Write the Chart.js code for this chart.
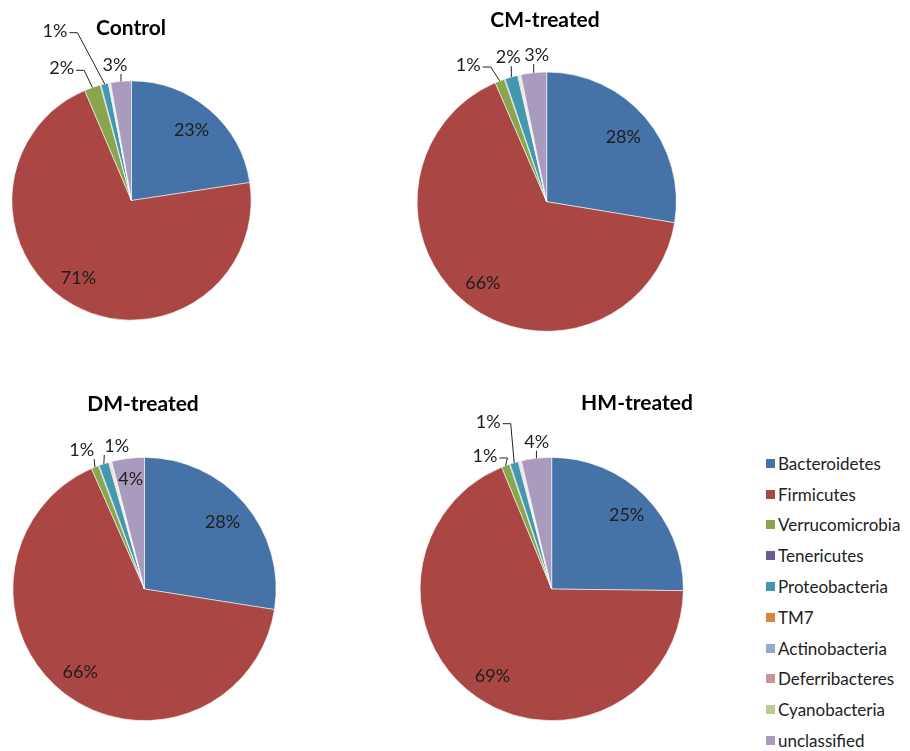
<!DOCTYPE html>
<html>
<head>
  <title>Phylum composition by treatment</title>
  <script src="https://cdn.jsdelivr.net/npm/chart.js"></script>
  <style>
    body { margin: 0; background: #fff; font-family: Lato, "Open Sans", sans-serif; }
    #page { position: relative; width: 910px; height: 751px; overflow: hidden; }
    #page canvas { position: absolute; left: 0; top: 0; }
    .title {
      position: absolute; font-weight: bold; font-size: 21px; color: #000;
      transform: translate(-50%, -50%); white-space: nowrap;
    }
    #legend { position: absolute; left: 766px; top: 448px; }
    .item { height: 30.8px; display: flex; align-items: center; font-size: 17px; color: #222; }
    .sw { width: 9px; height: 9px; margin-right: 3px; flex: none; }
  </style>
</head>
<body>
  <div id="page">
    <div id="legend"></div>
  </div>

  <script>
    // categories (legend order = slice order, clockwise from 12 o'clock)
    const phyla = [
      "Bacteroidetes", "Firmicutes", "Verrucomicrobia", "Tenericutes", "Proteobacteria",
      "TM7", "Actinobacteria", "Deferribacteres", "Cyanobacteria", "unclassified"
    ];
    const phylaColors = [
      "#4572A7", "#AA4643", "#89A54E", "#71588F", "#4198AF",
      "#DB843D", "#93A9CF", "#D19392", "#B9CD96", "#A99BBD"
    ];

    // relative abundance (%) per group
    const groups = ["Control", "CM-treated", "DM-treated", "HM-treated"];
    const control   = [22.6, 71.0, 2.2, 0.1, 1.0, 0.05, 0.1, 0.1, 0.05, 2.8];
    const cmTreated = [27.6, 65.9, 1.2, 0.1, 1.6, 0.1, 0.1, 0.1, 0.1, 3.2];
    const dmTreated = [27.5, 65.9, 0.9, 0.1, 1.2, 0.1, 0.1, 0.1, 0.1, 4.0];
    const hmTreated = [25.2, 68.6, 1.0, 0.1, 1.0, 0.1, 0.1, 0.1, 0.1, 3.7];
    const groupValues = [control, cmTreated, dmTreated, hmTreated];

    // where each pie sits on the page, and where its title goes
    const W = 910, H = 751;
    const pies = [
      { cx: 131.5, cy: 200.5, r: 120, tx: 131, ty: 26 },
      { cx: 546.7, cy: 201.7, r: 130, tx: 545, ty: 18 },
      { cx: 144.5, cy: 589,   r: 132, tx: 143, ty: 402 },
      { cx: 551.7, cy: 589,   r: 132, tx: 637, ty: 401 }
    ];

    // label placement: r = inside at fraction of radius, dx/dy = outside with leader line
    const spots = [
      { 0: { r: 0.77 }, 1: { r: 0.79, turn: 5 }, 2: { dx: -69.8, dy: -132.2 }, 4: { dx: -76.5, dy: -169.8 }, 9: { dx: -16.5, dy: -135.5 } },
      { 0: { r: 0.775 }, 1: { r: 0.8 }, 2: { dx: -78.4, dy: -136.7 }, 4: { dx: -38.4, dy: -144.4 }, 9: { dx: -10, dy: -146.7 } },
      { 0: { r: 0.78 }, 1: { r: 0.8 }, 2: { dx: -62.8, dy: -139 }, 4: { dx: -27.8, dy: -143 }, 9: { r: 0.84 } },
      { 0: { r: 0.8 }, 1: { r: 0.8 }, 2: { dx: -66.7, dy: -133 }, 4: { dx: -63.4, dy: -167.3 }, 9: { dx: -15, dy: -147.3 } }
    ];

    // draws the percentage labels and leader lines
    const sliceLabels = {
      id: "sliceLabels",
      afterDatasetsDraw(chart, args, opts) {
        const ctx = chart.ctx;
        const meta = chart.getDatasetMeta(0);
        const vals = chart.data.datasets[0].data;
        const total = vals.reduce((a, b) => a + b, 0);
        ctx.save();
        ctx.font = "18px Lato";
        ctx.fillStyle = "#1e1e1e";
        ctx.strokeStyle = "#222";
        ctx.lineWidth = 1;
        ctx.textAlign = "center";
        ctx.textBaseline = "middle";
        meta.data.forEach((arc, i) => {
          const spot = opts.spots[i];
          if (!spot) return;
          const text = Math.round(vals[i] / total * 100) + "%";
          const p = arc.getProps(["x", "y", "startAngle", "endAngle", "outerRadius"], true);
          const mid = (p.startAngle + p.endAngle) / 2 + (spot.turn || 0) * Math.PI / 180;
          if (spot.r) {
            ctx.fillText(text, p.x + Math.cos(mid) * p.outerRadius * spot.r,
                               p.y + Math.sin(mid) * p.outerRadius * spot.r);
            return;
          }
          const lx = p.x + spot.dx, ly = p.y + spot.dy;
          const ax = p.x + Math.cos(mid) * p.outerRadius;
          const ay = p.y + Math.sin(mid) * p.outerRadius;
          const w = ctx.measureText(text).width;
          ctx.beginPath();
          if (ax - (lx + w / 2) > 6) {
            ctx.moveTo(lx + w / 2 + 2, ly + 2);
            ctx.lineTo(lx + w / 2 + 10, ly + 2);
          } else {
            ctx.moveTo(Math.min(Math.max(ax, lx - w / 2), lx + w / 2), ly + 9);
          }
          ctx.lineTo(ax, ay);
          ctx.stroke();
          ctx.fillText(text, lx, ly);
        });
        ctx.restore();
      }
    };

    const page = document.getElementById("page");

    groups.forEach((name, g) => {
      const pie = pies[g];
      const canvas = document.createElement("canvas");
      canvas.width = W;
      canvas.height = H;
      page.appendChild(canvas);

      new Chart(canvas.getContext("2d"), {
        type: "pie",
        data: {
          labels: phyla,
          datasets: [{
            data: groupValues[g],
            backgroundColor: phylaColors,
            borderColor: "rgba(255,255,255,0.7)",
            borderWidth: 0.8
          }]
        },
        options: {
          responsive: false,
          animation: false,
          layout: {
            padding: {
              left: pie.cx - pie.r,
              top: pie.cy - pie.r,
              right: W - pie.cx - pie.r,
              bottom: H - pie.cy - pie.r
            }
          },
          plugins: {
            legend: { display: false },
            tooltip: { enabled: false },
            sliceLabels: { spots: spots[g] }
          }
        },
        plugins: [sliceLabels]
      });

      const t = document.createElement("div");
      t.className = "title";
      t.textContent = name;
      t.style.left = pie.tx + "px";
      t.style.top = pie.ty + "px";
      page.appendChild(t);
    });

    // legend on the right
    const legend = document.getElementById("legend");
    phyla.forEach((p, i) => {
      const row = document.createElement("div");
      row.className = "item";
      row.innerHTML = '<span class="sw" style="background:' + phylaColors[i] + '"></span>' + p;
      legend.appendChild(row);
    });
  </script>
</body>
</html>
